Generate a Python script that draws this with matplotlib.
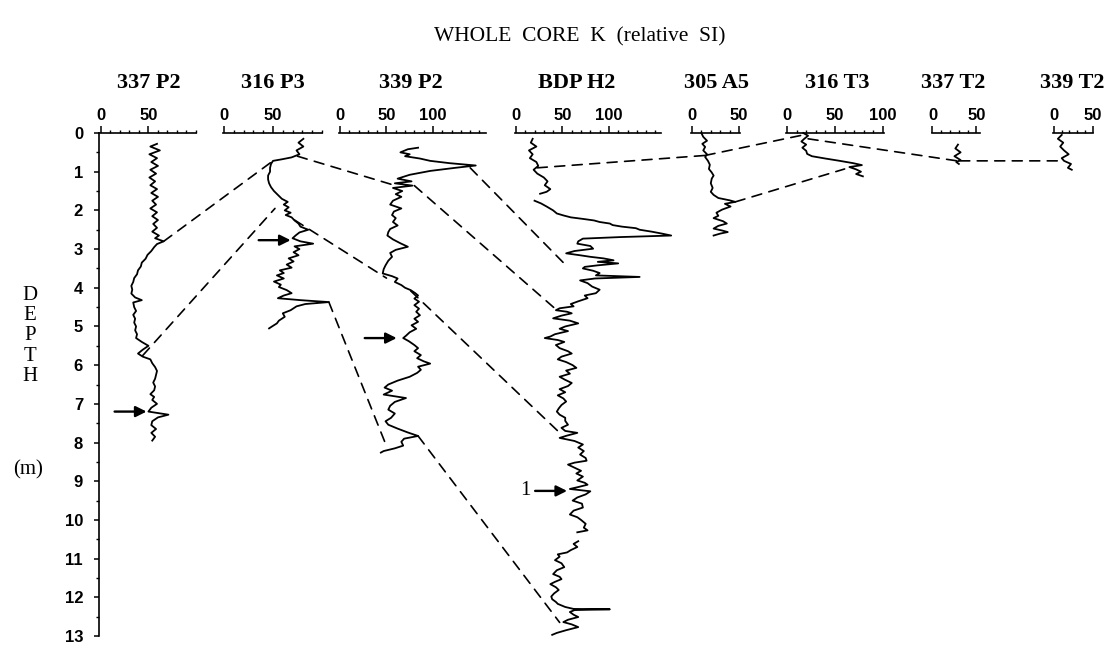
import numpy as np
import matplotlib
matplotlib.use("Agg")
import matplotlib.pyplot as plt
from matplotlib.patches import ConnectionPatch
from matplotlib.ticker import MultipleLocator

# ---------------- data ----------------
cores = ["337 P2", "316 P3", "339 P2", "BDP H2", "305 A5", "316 T3", "337 T2", "339 T2"]

p337_depth = [0.28, 0.35, 0.45, 0.55, 0.65, 0.75, 0.85, 0.95, 1.05, 1.15, 1.25, 1.35, 1.45, 1.55,
              1.65, 1.75, 1.85, 1.95, 2.05, 2.15, 2.25, 2.35, 2.45, 2.55, 2.65, 2.72, 2.8, 2.87,
              2.95, 3.05, 3.15, 3.25, 3.35, 3.45, 3.55, 3.65, 3.75, 3.85, 3.95, 4.05, 4.15, 4.25,
              4.32, 4.38, 4.5, 4.6, 4.7, 4.8, 4.9, 5.0, 5.1, 5.2, 5.3, 5.4, 5.5, 5.6, 5.7, 5.78,
              5.85, 5.95, 6.05, 6.15, 6.25, 6.35, 6.45, 6.55, 6.65, 6.75, 6.82, 6.9, 7.0, 7.1,
              7.2, 7.28, 7.35, 7.45, 7.55, 7.65, 7.75, 7.85, 7.95]
p337_k = [59, 52, 62, 51, 59, 53, 60, 52, 58, 51, 57, 52, 59, 53,
          60, 54, 58, 52, 59, 54, 60, 55, 59, 54, 61, 57, 66, 59,
          56, 53, 49, 47, 43, 42, 39, 38, 35, 34, 32, 33, 32, 36,
          43, 34, 35, 37, 34, 36, 35, 37, 36, 38, 37, 43, 50, 44, 39, 44,
          52, 54, 57, 59, 58, 57, 55, 57, 56, 52, 56, 54, 59, 53,
          50, 71, 60, 54, 53, 58, 53, 57, 54]

p316_depth = [0.15, 0.25, 0.35, 0.45, 0.55, 0.63, 0.68, 0.72, 0.8, 0.9, 1.0, 1.1, 1.2, 1.3,
              1.4, 1.5, 1.6, 1.7, 1.78, 1.85, 1.92, 2.0, 2.06, 2.12, 2.18, 2.26, 2.34, 2.42,
              2.5, 2.57, 2.65, 2.72, 2.8, 2.86, 2.93, 3.0, 3.08, 3.16, 3.24, 3.32, 3.4, 3.48,
              3.55, 3.62, 3.68, 3.76, 3.84, 3.92, 3.98, 4.06, 4.14, 4.2, 4.27, 4.32, 4.37, 4.42,
              4.48, 4.58, 4.66, 4.75, 4.85, 4.92, 5.0, 5.05]
p316_k = [81, 76, 81, 74, 77, 69, 59, 50, 48, 47, 47, 45, 45, 46,
          48, 51, 55, 59, 65, 61, 66, 62, 68, 63, 69, 72, 76, 78,
          86, 77, 73, 70, 78, 91, 72, 77, 71, 76, 66, 71, 64, 69,
          57, 61, 54, 61, 51, 58, 56, 64, 69, 61, 55, 78, 107, 83,
          74, 68, 60, 62, 56, 54, 49, 46]

p339_depth = [0.38, 0.42, 0.5, 0.55, 0.6, 0.66, 0.72, 0.78, 0.84, 0.9, 0.98, 1.08, 1.18, 1.25,
              1.3, 1.36, 1.42, 1.5, 1.58, 1.65, 1.75, 1.85, 1.95, 2.03, 2.12, 2.2, 2.3, 2.39,
              2.48, 2.56, 2.65, 2.75, 2.85, 2.94, 3.02, 3.1, 3.2, 3.3, 3.42, 3.52, 3.63, 3.7,
              3.76, 3.85, 3.93, 4.0, 4.06, 4.14, 4.2, 4.28, 4.36, 4.45, 4.54, 4.62, 4.71, 4.8,
              4.88, 4.97, 5.06, 5.15, 5.24, 5.3, 5.38, 5.48, 5.56, 5.64, 5.74, 5.82, 5.9, 5.96,
              6.04, 6.12, 6.2, 6.3, 6.4, 6.5, 6.58, 6.66, 6.76, 6.85, 6.95, 7.05, 7.15, 7.25,
              7.36, 7.45, 7.54, 7.64, 7.74, 7.83, 7.9, 7.98, 8.08, 8.15, 8.22, 8.26]
p339_k = [84, 73, 65, 75, 70, 86, 97, 118, 146, 124, 97, 75, 62, 77,
          59, 78, 57, 67, 60, 66, 57, 54, 66, 58, 56, 60, 57, 62,
          54, 52, 51, 57, 65, 73, 60, 54, 56, 52, 49, 47, 46, 56,
          62, 59, 66, 70, 76, 81, 84, 80, 85, 80, 85, 82, 86, 80,
          84, 77, 82, 75, 71, 68, 74, 80, 84, 80, 87, 83, 90, 97,
          84, 87, 83, 75, 62, 52, 48, 56, 47, 71, 59, 54, 52, 59,
          55, 49, 52, 62, 73, 84, 69, 66, 68, 59, 47, 44]

bdp_depth = [0.15, 0.25, 0.35, 0.45, 0.55, 0.65, 0.75, 0.85, 0.95, 1.05, 1.15, 1.25, 1.35, 1.45,
             1.52, 1.57, np.nan, 1.75, 1.82, 1.9, 2.0, 2.08, 2.13, 2.18, 2.22, 2.26, 2.3, 2.34,
             2.38, 2.42, 2.46, 2.5, 2.55, 2.6, 2.65, 2.69, 2.73, 2.8, 2.86, 2.92, 2.99, 3.05,
             3.11, 3.16, 3.2, 3.24, 3.29, 3.33, 3.37, 3.42, 3.46, 3.5, 3.56, 3.62, 3.68, 3.72,
             3.76, 3.81, 3.88, 3.97, 4.05, 4.14, 4.2, 4.27, 4.35, 4.42, 4.48, 4.53, 4.58, 4.62,
             4.66, 4.72, 4.79, 4.85, 4.92, 5.0, 5.06, 5.12, 5.2, 5.26, 5.3, 5.35, 5.4, 5.48,
             5.56, 5.64, 5.7, 5.78, 5.85, 5.92, 6.0, 6.07, 6.14, 6.22, 6.3, 6.38, 6.46, 6.54,
             6.62, 6.7, 6.78, 6.86, 6.94, 7.03, 7.12, 7.2, 7.28, 7.36, 7.44, 7.54, 7.62, 7.7,
             7.75, 7.82, 7.88, 7.96, 8.05, 8.13, 8.22, 8.31, 8.4, 8.47, 8.52, 8.57, 8.65, 8.73,
             8.8, 8.88, 8.98, 9.04, 9.09, 9.15, 9.2, 9.26, 9.34, 9.42, 9.5, 9.58, 9.68, 9.76,
             9.86, 9.93, 10.0, 10.1, 10.2, 10.27, 10.32, np.nan, 10.55, 10.62, 10.7, 10.78, 10.84,
             10.89, 10.95, 11.04, 11.12, 11.22, 11.3, 11.4, 11.47, 11.53, 11.6, 11.66, 11.74,
             11.81, 11.9, 11.98, 12.05, 12.12, 12.17, 12.25, 12.3, 12.31, 12.33, 12.38, 12.45,
             12.51, 12.58, 12.64, 12.7, 12.77, 12.85, 12.92, 12.97]
bdp_k = [18, 16, 22, 14, 18, 15, 22, 24, 19, 23, 30, 34, 31, 37,
         33, 26, np.nan, 20, 27, 33, 40, 44, 51, 59, 72, 84, 90, 101,
         104, 114, 129, 133, 146, 157, 167, 112, 72, 67, 66, 80, 83, 63,
         54, 69, 80, 94, 105, 88, 110, 88, 74, 72, 83, 90, 86, 133,
         85, 69, 77, 82, 90, 86, 74, 77, 67, 59, 62, 47, 43, 55,
         60, 49, 40, 58, 67, 53, 47, 56, 42, 37, 31, 45, 52, 43,
         47, 56, 60, 49, 45, 54, 61, 65, 54, 58, 47, 53, 60, 56,
         47, 53, 45, 51, 54, 49, 46, 44, 47, 53, 53, 56, 49, 53,
         66, 55, 47, 63, 72, 67, 73, 69, 75, 76, 63, 56, 63, 70,
         65, 72, 66, 74, 77, 67, 58, 80, 75, 66, 61, 71, 72, 62,
         58, 66, 70, 75, 73, 77, 66, np.nan, 67, 62, 66, 59, 55,
         45, 47, 42, 49, 52, 44, 40, 47, 49, 42, 37, 43,
         46, 41, 38, 39, 43, 45, 53, 62, 101, 63, 58, 62,
         67, 56, 51, 60, 67, 54, 44, 39]

a305_depth = [0.0, 0.1, 0.2, 0.28, 0.36, 0.45, 0.55, 0.62, 0.72, 0.82, 0.93, 1.02, 1.1, 1.18,
              1.3, 1.42, 1.52, 1.6, 1.68, 1.74, 1.78, 1.83, 1.9, 1.98, 2.06, 2.14, 2.2, 2.28,
              2.34, 2.4, 2.47, 2.52, 2.56, 2.6, 2.65]
a305_k = [10, 12, 16, 11, 14, 12, 16, 14, 17, 19, 18, 21, 23, 21,
          20, 22, 20, 23, 28, 40, 46, 35, 41, 32, 26, 28, 23, 33,
          37, 28, 23, 32, 38, 30, 23]

t316_depth = [0.0, 0.07, 0.15, 0.22, 0.3, 0.38, 0.46, 0.54, 0.6, 0.66, 0.72, 0.78, 0.83, 0.88,
              0.94, 1.0, 1.06, 1.12]
t316_k = [17, 22, 18, 15, 20, 16, 20, 21, 26, 40, 55, 69, 78, 65,
          72, 77, 72, 79]

t337_depth = [0.3, 0.4, 0.5, 0.6, 0.7, 0.75, 0.8]
t337_k = [29, 26, 32, 25, 32, 27, 30]

t339_depth = [0.05, 0.15, 0.25, 0.35, 0.45, 0.55, 0.65, 0.72, 0.8, 0.9, 0.95]
t339_k = [10, 5, 12, 8, 13, 19, 10, 13, 22, 18, 23]

traces = {
    "337 P2": (p337_depth, p337_k),
    "316 P3": (p316_depth, p316_k),
    "339 P2": (p339_depth, p339_k),
    "BDP H2": (bdp_depth, bdp_k),
    "305 A5": (a305_depth, a305_k),
    "316 T3": (t316_depth, t316_k),
    "337 T2": (t337_depth, t337_k),
    "339 T2": (t339_depth, t339_k),
}

# K scale limits and labelled ticks of each core panel
k_limits = {
    "337 P2": (-2, 100), "316 P3": (-1, 100), "339 P2": (-1, 157), "BDP H2": (-1, 156),
    "305 A5": (-1, 51), "316 T3": (-1, 101), "337 T2": (-0.5, 54), "339 T2": (-1.3, 50.5),
}
k_labels = {
    "337 P2": [0, 50], "316 P3": [0, 50], "339 P2": [0, 50, 100], "BDP H2": [0, 50, 100],
    "305 A5": [0, 50], "316 T3": [0, 50, 100], "337 T2": [0, 50], "339 T2": [0, 50],
}

# correlation ties: (core, K, depth) -> (core, K, depth)
ties = [
    (("337 P2", 66, 2.8), ("316 P3", 50, 0.72)),
    (("337 P2", 44, 5.75), ("316 P3", 52, 1.95)),
    (("316 P3", 75, 0.6), ("339 P2", 57, 1.34)),
    (("316 P3", 72, 2.25), ("339 P2", 50, 3.75)),
    (("316 P3", 107, 4.37), ("339 P2", 48, 7.97)),
    (("339 P2", 140, 0.9), ("BDP H2", 53, 3.4)),
    (("339 P2", 80, 1.36), ("BDP H2", 45, 4.6)),
    (("339 P2", 76, 4.08), ("BDP H2", 45, 7.7)),
    (("339 P2", 84, 7.83), ("BDP H2", 47, 12.65)),
    (("BDP H2", 23, 0.9), ("305 A5", 14, 0.58)),
    (("305 A5", 14, 0.58), ("316 T3", 17, 0.05)),
    (("305 A5", 46, 1.78), ("316 T3", 60, 0.93)),
    (("316 T3", 22, 0.15), ("337 T2", 28, 0.72)),
    (("337 T2", 31, 0.72), ("339 T2", 12, 0.72)),
]

# marker arrows: (core, K at tip, depth, label)
markers = [
    ("337 P2", 48, 7.2, ""),
    ("316 P3", 68, 2.77, ""),
    ("339 P2", 61, 5.3, ""),
    ("BDP H2", 55, 9.25, "1"),
]

# ---------------- layout ----------------
W, H = 1112, 645
Y_TOP, Y_BOT = 133, 636          # pixel rows of 0 m and 13 m
panel_px = {
    "337 P2": (99, 196), "316 P3": (223, 322), "339 P2": (339, 486), "BDP H2": (515, 661),
    "305 A5": (691, 740), "316 T3": (786, 884), "337 T2": (932, 980), "339 T2": (1053, 1093),
}
header_x = {
    "337 P2": 149, "316 P3": 273, "339 P2": 411, "BDP H2": 577,
    "305 A5": 716, "316 T3": 837, "337 T2": 953, "339 T2": 1072,
}

SERIF = ["Liberation Serif", "DejaVu Serif"]
SANS = ["Liberation Sans", "DejaVu Sans"]

fig = plt.figure(figsize=(W / 100, H / 100), dpi=100)
fig.patch.set_facecolor("white")

axes = {}
for name in cores:
    x0, x1 = panel_px[name]
    ax = fig.add_axes([x0 / W, (H - Y_BOT) / H, (x1 - x0) / W, (Y_BOT - Y_TOP) / H])
    ax.patch.set_alpha(0)
    ax.set_xlim(*k_limits[name])
    ax.set_ylim(13, 0)
    for side in ("right", "bottom", "left"):
        ax.spines[side].set_visible(False)
    ax.spines["top"].set_linewidth(1.2)
    ax.xaxis.set_ticks_position("top")
    ax.xaxis.set_label_position("top")
    ax.set_xticks(k_labels[name])
    ax.xaxis.set_minor_locator(MultipleLocator(10))
    ax.tick_params(axis="x", which="major", direction="out", length=5, width=1.1, pad=2.5,
                   labelsize=12)
    ax.tick_params(axis="x", which="minor", direction="out", length=2.5, width=1.0)
    for lab in ax.get_xticklabels():
        lab.set_fontweight("bold")
        lab.set_fontfamily(SANS)
    ax.set_yticks([])
    d, k = traces[name]
    ax.plot(k, d, color="black", lw=1.3, clip_on=False, solid_joinstyle="round")
    fig.text(header_x[name] / W, 1 - 83 / H, name, ha="center", va="center",
             fontsize=16, fontweight="bold", family=SERIF)
    axes[name] = ax

# depth axis on the first panel
ax0 = axes["337 P2"]
ax0.spines["left"].set_visible(True)
ax0.spines["left"].set_linewidth(1.2)
ax0.set_yticks(range(0, 14))
ax0.yaxis.set_minor_locator(MultipleLocator(0.5))
ax0.tick_params(axis="y", which="major", direction="out", length=3.5, width=1.1, pad=8,
                labelsize=12)
ax0.tick_params(axis="y", which="minor", direction="out", length=2, width=1.0)
for lab in ax0.get_yticklabels():
    lab.set_fontweight("bold")
    lab.set_fontfamily(SANS)

# correlation ties
for (ca, ka, da), (cb, kb, db) in ties:
    con = ConnectionPatch(xyA=(ka, da), coordsA=axes[ca].transData,
                          xyB=(kb, db), coordsB=axes[cb].transData,
                          color="black", lw=1.2, linestyle=(0, (6, 4.5)))
    fig.add_artist(con)

# marker arrows
for name, k, d, lab in markers:
    ax = axes[name]
    ax.annotate("", xy=(k, d), xycoords="data", xytext=(-23, 0), textcoords="offset points",
                arrowprops=dict(arrowstyle="-|>", color="black", lw=1.7, mutation_scale=16,
                                shrinkA=0, shrinkB=0), annotation_clip=False)
    if lab:
        ax.annotate(lab, xy=(k, d), xycoords="data", xytext=(-26, 0),
                    textcoords="offset points", ha="right", va="center",
                    fontsize=15, family=SERIF, annotation_clip=False)

# titles
fig.text(580 / W, 1 - 37 / H, "WHOLE  CORE  K  (relative  SI)", ha="center", va="center",
         fontsize=15.5, family=SERIF)
fig.text(30 / W, 1 - 336 / H, "D\nE\nP\nT\nH", ha="center", va="center", fontsize=15,
         family=SERIF, linespacing=1.1)
fig.text(28 / W, 1 - 470 / H, "(m)", ha="center", va="center", fontsize=15, family=SERIF)

fig.savefig("out.png", dpi=100, facecolor="white")
